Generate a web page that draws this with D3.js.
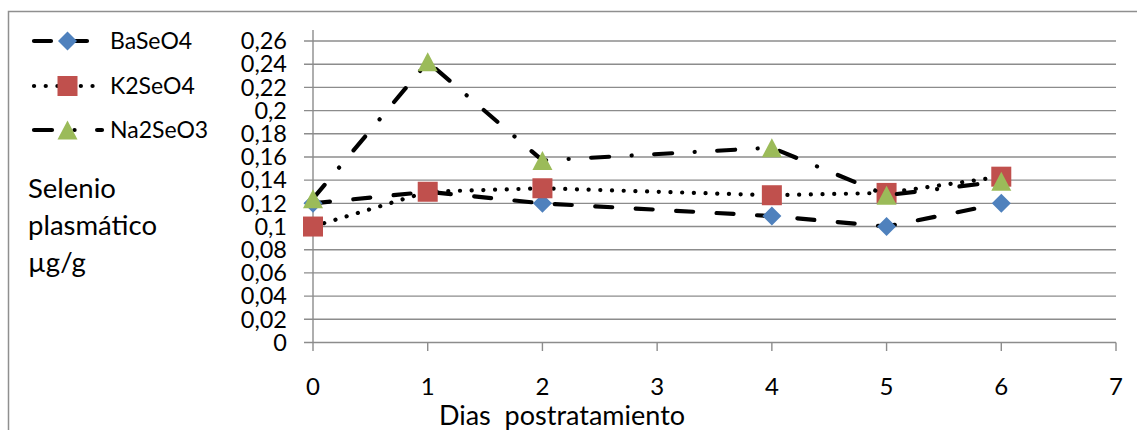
<!DOCTYPE html>
<html>
  <head>
    <meta charset="utf-8">
    <script src="https://d3js.org/d3.v7.min.js"></script>
    <style>
      body {
        margin: 0;
        background: #fff;
      }
      svg text {
        font-family: Lato, "Open Sans", sans-serif;
        fill: #000;
      }
    </style>
  </head>
  <body>
    <div id="chart"></div>
    <script>
      // data
      const dias = [0, 1, 2, 4, 5, 6]
      const baSeO4 = [0.12, 0.13, 0.12, 0.109, 0.10, 0.12]
      const k2SeO4 = [0.10, 0.13, 0.133, 0.127, 0.129, 0.143]
      const na2SeO3 = [0.124, 0.242, 0.157, 0.168, 0.127, 0.139]
      const yTicks = [0, 0.02, 0.04, 0.06, 0.08, 0.1, 0.12, 0.14, 0.16, 0.18, 0.2, 0.22, 0.24, 0.26]
      const xTicks = [0, 1, 2, 3, 4, 5, 6, 7]
      const seriesNames = ["BaSeO4", "K2SeO4", "Na2SeO3"]

      const width = 1137, height = 430
      const svg = d3.select("#chart").append("svg")
        .attr("width", width)
        .attr("height", height)

      // outer chart frame (only top and left visible)
      svg.append("rect")
        .attr("x", 8.5).attr("y", 11.5)
        .attr("width", 1140).attr("height", 430)
        .attr("fill", "none")
        .attr("stroke", "#8f8f8f")
        .attr("stroke-width", 1.5)

      const x = d3.scaleLinear().domain([0, 7]).range([313, 1116])
      const y = d3.scaleLinear().domain([0, 0.26]).range([342.5, 41])

      const fmt = d => String(+d.toFixed(2)).replace(".", ",")

      // gridlines + y ticks
      svg.append("g")
        .selectAll("line")
        .data(yTicks)
        .join("line")
          .attr("x1", 304)
          .attr("x2", x(7))
          .attr("y1", d => y(d))
          .attr("y2", d => y(d))
          .attr("stroke", "#8c8c8c")
          .attr("stroke-width", 1.4)

      // y axis line
      svg.append("line")
        .attr("x1", x(0)).attr("x2", x(0))
        .attr("y1", 30).attr("y2", 351)
        .attr("stroke", "#8c8c8c")
        .attr("stroke-width", 1.4)

      // x ticks
      svg.append("g")
        .selectAll("line")
        .data(xTicks.slice(1))
        .join("line")
          .attr("x1", d => x(d))
          .attr("x2", d => x(d))
          .attr("y1", y(0))
          .attr("y2", 351)
          .attr("stroke", "#8c8c8c")
          .attr("stroke-width", 1.4)

      svg.append("g")
        .selectAll("text")
        .data(yTicks)
        .join("text")
          .attr("x", 287)
          .attr("y", d => y(d))
          .attr("dy", "0.35em")
          .attr("text-anchor", "end")
          .attr("font-size", 23.5)
          .text(fmt)

      svg.append("g")
        .selectAll("text")
        .data(xTicks)
        .join("text")
          .attr("x", d => x(d))
          .attr("y", 387)
          .attr("dy", "0.35em")
          .attr("text-anchor", "middle")
          .attr("font-size", 24)
          .text(d => d)

      svg.append("text")
        .attr("x", 562)
        .attr("y", 425)
        .attr("text-anchor", "middle")
        .attr("font-size", 27)
        .attr("xml:space", "preserve")
        .text("Dias  postratamiento")

      // y axis title, placed on the left under the legend
      const ytitle = svg.append("text").attr("font-size", 27.5)
      ;["Selenio", "plasmático", "µg/g"].forEach((t, i) => {
        ytitle.append("tspan").attr("x", 28).attr("y", 198 + i * 37).text(t)
      })

      const styles = [
        { dash: "17,23.5", color: "#4f81bd", marker: "diamond" },
        { dash: "0.1,11.6", color: "#c0504d", marker: "square" },
        { dash: "18,22.5,0.1,22.5", color: "#9bbb59", marker: "triangle" }
      ]
      const allValues = [baSeO4, k2SeO4, na2SeO3]

      function drawMarker(g, kind, color, cx, cy) {
        if (kind === "diamond") {
          g.append("path")
            .attr("d", `M${cx},${cy - 9.5}L${cx + 9.5},${cy}L${cx},${cy + 9.5}L${cx - 9.5},${cy}Z`)
            .attr("fill", color)
        } else if (kind === "square") {
          g.append("rect")
            .attr("x", cx - 10).attr("y", cy - 10)
            .attr("width", 20).attr("height", 20)
            .attr("fill", color)
        } else {
          g.append("path")
            .attr("d", `M${cx},${cy - 9.5}L${cx + 10},${cy + 9.5}L${cx - 10},${cy + 9.5}Z`)
            .attr("fill", color)
        }
      }

      const line = d3.line()
        .x(d => x(d[0]))
        .y(d => y(d[1]))

      allValues.forEach((vals, si) => {
        const st = styles[si]
        const pts = dias.map((d, i) => [d, vals[i]])
        const g = svg.append("g")
        g.append("path")
          .datum(pts)
          .attr("d", line)
          .attr("fill", "none")
          .attr("stroke", "#000")
          .attr("stroke-width", 4.2)
          .attr("stroke-linecap", "round")
          .attr("stroke-dasharray", st.dash)
        pts.forEach(p => drawMarker(g, st.marker, st.color, x(p[0]), y(p[1])))
      })

      // legend
      const legendY = [41, 86, 130]
      const legendEnd = [87, 98, 102]
      seriesNames.forEach((name, i) => {
        const st = styles[i]
        const g = svg.append("g")
        g.append("line")
          .attr("x1", 34).attr("x2", legendEnd[i])
          .attr("y1", legendY[i]).attr("y2", legendY[i])
          .attr("stroke", "#000")
          .attr("stroke-width", 4.2)
          .attr("stroke-linecap", "round")
          .attr("stroke-dasharray", st.dash)
        drawMarker(g, st.marker, st.color, 67.5, legendY[i])
        g.append("text")
          .attr("x", 110)
          .attr("y", legendY[i])
          .attr("dy", "0.35em")
          .attr("font-size", 23)
          .text(name)
      })
    </script>
  </body>
</html>
